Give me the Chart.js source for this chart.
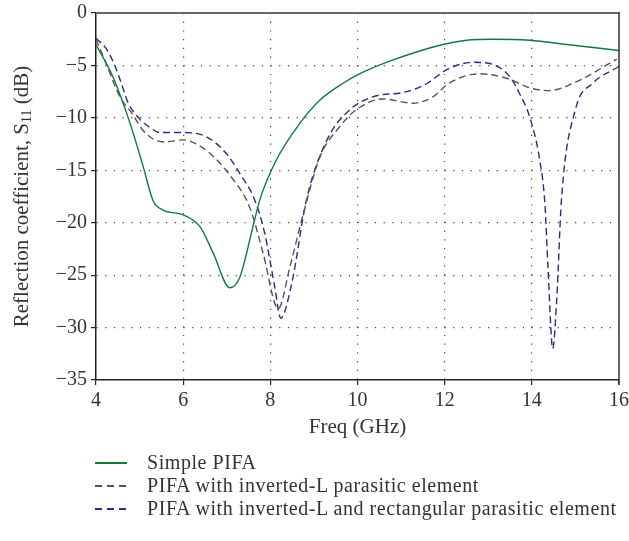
<!DOCTYPE html>
<html>
<head>
<meta charset="utf-8">
<script src="https://cdn.jsdelivr.net/npm/chart.js@4.4.1/dist/chart.umd.min.js"></script>
<style>
  html, body { margin: 0; padding: 0; background: #fff; }
  #wrap { position: relative; width: 629px; height: 541px; }
  #legend { position: absolute; left: 95px; top: 451px; font-family: "Liberation Serif", serif; font-size: 20px; letter-spacing: 0.55px; color: #333; }
  #legend .row { height: 23px; line-height: 23px; white-space: nowrap; }
  #legend .swatch { display: inline-block; width: 32px; height: 2px; vertical-align: middle; margin-right: 20px; position: relative; top: -1px; }
</style>
</head>
<body>
<div id="wrap">
  <canvas id="c" width="629" height="541"></canvas>
  <div id="legend"></div>
</div>
<script>
// series: frequency (GHz) and S11 (dB)
const simpleFreq = [4.0, 4.39, 4.78, 5.08, 5.31, 5.54, 6.0, 6.39, 6.69, 7.07, 7.3, 7.6, 7.76, 8.14, 8.68, 9.14, 9.67, 10.0, 10.8, 11.96, 12.5, 13.1, 13.95, 14.8, 16.0];
const simpleS11 = [-3.0, -6.1, -10.5, -14.6, -17.9, -18.8, -19.25, -20.4, -22.9, -26.2, -25.2, -20.4, -17.8, -14.0, -10.5, -8.3, -6.7, -5.9, -4.5, -3.0, -2.6, -2.5, -2.6, -3.0, -3.57];

const invLFreq = [4.0, 4.25, 4.55, 4.83, 5.08, 5.35, 5.6, 6.0, 6.39, 6.77, 7.15, 7.45, 7.6, 7.84, 8.18, 8.45, 8.76, 9.14, 9.6, 9.98, 10.58, 11.27, 11.73, 12.1, 12.8, 13.4, 14.0, 14.4, 15.0, 15.95];
const invLS11 = [-2.5, -5.0, -8.0, -9.6, -11.2, -12.1, -12.3, -12.1, -12.7, -14.0, -15.9, -17.8, -19.4, -23.0, -28.2, -24.2, -19.1, -13.7, -10.8, -9.2, -8.2, -8.6, -8.0, -6.7, -5.8, -6.2, -7.2, -7.4, -6.6, -4.4];

const rectFreq = [4.0, 4.25, 4.44, 4.59, 4.73, 5.0, 5.2, 5.47, 6.0, 6.53, 6.99, 7.3, 7.64, 7.87, 8.1, 8.24, 8.49, 8.83, 9.3, 9.83, 10.35, 11.13, 11.6, 12.05, 12.65, 13.1, 13.5, 13.72, 13.95, 14.18, 14.3, 14.37, 14.48, 14.57, 14.68, 15.0, 15.4, 16.0];
const rectS11 = [-2.4, -3.5, -5.1, -6.8, -8.5, -10.1, -10.8, -11.4, -11.4, -11.8, -13.4, -15.3, -17.8, -21.0, -26.1, -29.1, -25.8, -17.8, -12.1, -9.2, -8.0, -7.5, -6.7, -5.4, -4.7, -4.9, -6.1, -7.7, -9.9, -14.0, -18.2, -24.2, -32.0, -27.4, -17.8, -9.2, -6.7, -5.1];

const seriesNames = ['Simple PIFA', 'PIFA with inverted-L parasitic element', 'PIFA with inverted-L and rectangular parasitic element'];
const seriesColors = ['#137a3e', '#555555', '#2b2b86'];

const xTicks = [4, 6, 8, 10, 12, 14, 16];
const yTicks = [0, -5, -10, -15, -20, -25, -30, -35];

const toPoints = (xs, ys) => xs.map((x, i) => ({ x, y: ys[i] }));
const FONT = '"Liberation Serif", serif';

// frame: top and right borders + rotated y title with subscript
const framePlugin = {
  id: 'frame',
  afterDraw(chart) {
    const { ctx, chartArea: a } = chart;
    ctx.save();
    ctx.strokeStyle = '#666';
    ctx.lineWidth = 2;
    ctx.beginPath(); ctx.moveTo(a.left, a.top); ctx.lineTo(a.right + 1, a.top); ctx.stroke();
    ctx.strokeStyle = '#333';
    ctx.lineWidth = 1.5;
    ctx.beginPath(); ctx.moveTo(a.right, a.top); ctx.lineTo(a.right, a.bottom + 5); ctx.stroke();
    // y title
    ctx.fillStyle = '#333';
    ctx.textBaseline = 'middle';
    const big = '21px ' + FONT, small = '14px ' + FONT;
    const p1 = 'Reflection coefficient, S', p2 = '11', p3 = ' (dB)';
    ctx.font = big; const w1 = ctx.measureText(p1).width, w3 = ctx.measureText(p3).width;
    ctx.font = small; const w2 = ctx.measureText(p2).width;
    const total = w1 + w2 + w3;
    ctx.translate(22, (a.top + a.bottom) / 2);
    ctx.rotate(-Math.PI / 2);
    let x = -total / 2;
    ctx.font = big; ctx.fillText(p1, x, 0); x += w1;
    ctx.font = small; ctx.fillText(p2, x, 5); x += w2;
    ctx.font = big; ctx.fillText(p3, x, 0);
    ctx.restore();
  }
};

const edgeGrid = (ticks) => (c) => (c.index === 0 || c.index === ticks.length - 1) ? 'rgba(0,0,0,0)' : '#444';

new Chart(document.getElementById('c'), {
  type: 'line',
  data: {
    datasets: [
      { label: seriesNames[0], data: toPoints(simpleFreq, simpleS11), borderColor: seriesColors[0], borderWidth: 1.4 },
      { label: seriesNames[1], data: toPoints(invLFreq, invLS11), borderColor: seriesColors[1], borderWidth: 1.4, borderDash: [7, 4] },
      { label: seriesNames[2], data: toPoints(rectFreq, rectS11), borderColor: seriesColors[2], borderWidth: 1.4, borderDash: [7, 4] }
    ]
  },
  options: {
    responsive: false,
    animation: false,
    layout: { padding: { left: 0, right: 10, top: 13, bottom: 96 } },
    elements: { point: { radius: 0 }, line: { cubicInterpolationMode: 'monotone', fill: false } },
    plugins: { legend: { display: false }, tooltip: { enabled: false } },
    scales: {
      x: {
        type: 'linear', min: 4, max: 16,
        afterBuildTicks: s => { s.ticks = xTicks.map(v => ({ value: v })); },
        afterFit: s => { s.height = 65; s.paddingLeft = 0; s.paddingRight = 0; },
        ticks: { color: '#333', font: { family: FONT, size: 20 }, padding: 4, maxRotation: 0 },
        grid: { color: edgeGrid(xTicks), lineWidth: 1.2, tickColor: '#222', tickLength: 5, tickWidth: 1.2 },
        border: { color: '#222', width: 1.5, dash: [1.2, 7.5] },
        title: { display: true, text: 'Freq (GHz)', color: '#333', font: { family: FONT, size: 21 }, padding: { top: 0, bottom: 5 } }
      },
      y: {
        type: 'linear', min: -35, max: 0,
        afterBuildTicks: s => { s.ticks = yTicks.map(v => ({ value: v })); },
        afterFit: s => { s.width = 96; s.paddingTop = 0; s.paddingBottom = 0; },
        ticks: { color: '#333', font: { family: FONT, size: 20 }, padding: 4, callback: v => v < 0 ? '\u2212' + Math.abs(v) : String(v) },
        grid: { color: edgeGrid(yTicks.slice().reverse()), lineWidth: 1.2, tickColor: '#222', tickLength: 5, tickWidth: 1.2 },
        border: { color: '#222', width: 1.5, dash: [1.2, 7.5] }
      }
    }
  },
  plugins: [framePlugin]
});

// legend
const legend = document.getElementById('legend');
seriesNames.forEach((name, i) => {
  const row = document.createElement('div');
  row.className = 'row';
  const sw = document.createElement('span');
  sw.className = 'swatch';
  sw.style.background = i === 0 ? seriesColors[i]
    : 'repeating-linear-gradient(to right, ' + seriesColors[i] + ' 0px, ' + seriesColors[i] + ' 7px, rgba(255,255,255,0) 7px, rgba(255,255,255,0) 12px)';
  row.appendChild(sw);
  row.appendChild(document.createTextNode(name));
  legend.appendChild(row);
});
</script>
</body>
</html>
